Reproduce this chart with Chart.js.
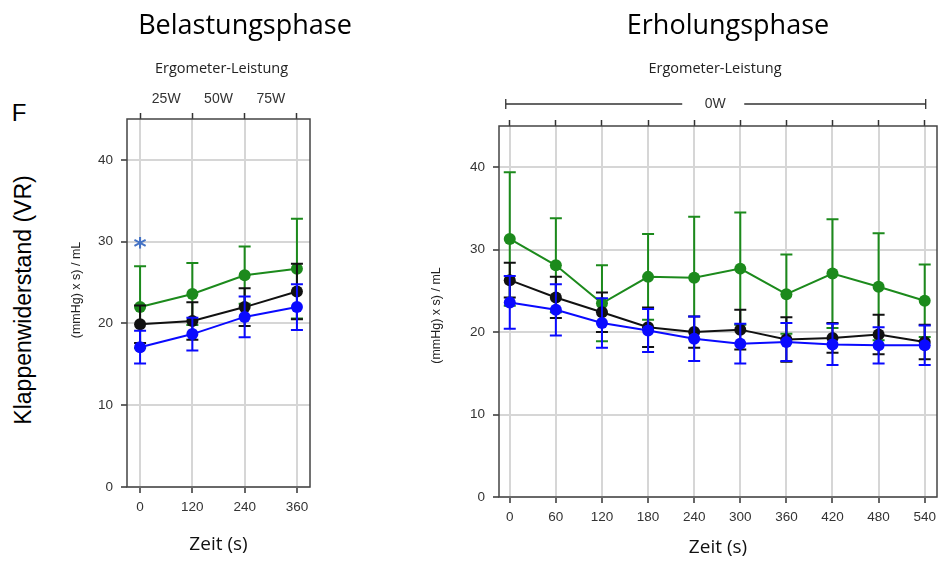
<!DOCTYPE html>
<html>
<head>
<meta charset="utf-8">
<script src="https://cdn.jsdelivr.net/npm/chart.js@4"></script>
<style>
  body { margin: 0; background: #fff; }
  #page { position: relative; width: 943px; height: 563px; overflow: hidden; }
  canvas { position: absolute; }
  .txt { position: absolute; transform: translate(-50%, -50%); white-space: nowrap; line-height: 1; color: #000; }
</style>
</head>
<body>
<div id="page">
  <canvas id="loadChart" width="280" height="523" style="left:40px; top:40px;"></canvas>
  <canvas id="recChart" width="523" height="523" style="left:420px; top:40px;"></canvas>
  <div class="txt" style="left:245px; top:23px; font:27px 'Open Sans';">Belastungsphase</div>
  <div class="txt" style="left:728px; top:23px; font:27px 'Open Sans';">Erholungsphase</div>
  <div class="txt" style="left:19px; top:113px; font:24px 'Liberation Sans';">F</div>
  <div class="txt" style="left:23px; top:300px; font:23px 'Liberation Sans'; transform: translate(-50%, -50%) rotate(-90deg);">Klappenwiderstand (VR)</div>
</div>
<script>
// Belastungsphase (load), time in s
const timeLoad = [0, 120, 240, 360];
const loadGreen = [22.0, 23.6, 25.9, 26.7];
const loadGreenErr = [5.0, 3.8, 3.5, 6.1];
const loadBlack = [19.9, 20.3, 22.0, 23.9];
const loadBlackErr = [2.3, 2.3, 2.3, 3.4];
const loadBlue = [17.1, 18.7, 20.8, 22.0];
const loadBlueErr = [2.0, 2.0, 2.5, 2.8];
const loadPowerLabels = ['25W', '50W', '75W'];
const loadPowerAt = [60, 180, 300];
const loadSignif = [{x: 0, y: 30}];

// Erholungsphase (recovery)
const timeRec = [0, 60, 120, 180, 240, 300, 360, 420, 480, 540];
const recGreen = [31.3, 28.1, 23.5, 26.7, 26.6, 27.7, 24.6, 27.1, 25.5, 23.8];
const recGreenErr = [8.1, 5.7, 4.6, 5.2, 7.4, 6.8, 4.8, 6.6, 6.5, 4.4];
const recBlack = [26.3, 24.2, 22.4, 20.6, 20.0, 20.3, 19.1, 19.3, 19.7, 18.8];
const recBlackErr = [2.1, 2.5, 2.4, 2.4, 1.9, 2.4, 2.7, 1.8, 2.4, 2.1];
const recBlue = [23.6, 22.7, 21.1, 20.2, 19.2, 18.6, 18.8, 18.5, 18.4, 18.4];
const recBlueErr = [3.2, 3.1, 3.0, 2.6, 2.7, 2.4, 2.3, 2.5, 2.2, 2.4];
const recBracket = {from: 0, to: 540, label: '0W'};

const yTicks = [0, 10, 20, 30, 40];
const headerText = 'Ergometer-Leistung';
const yTitle = '(mmHg) x s) / mL';
const xTitle = 'Zeit (s)';

const GREEN = '#1c8a1c';
const BLACK = '#111111';
const BLUE = '#0a0aff';

// error bars, box, y title and the header texts above the plot
const extras = {
  id: 'extras',
  beforeDatasetsDraw(chart) {
    const {ctx, chartArea: a} = chart;
    ctx.save();
    ctx.strokeStyle = '#444';
    ctx.lineWidth = 1.5;
    ctx.strokeRect(a.left, a.top, a.right - a.left, a.bottom - a.top);
    ctx.restore();
  },
  beforeDatasetDraw(chart, args) {
    const ds = chart.data.datasets[args.index];
    if (!ds.errors) return;
    const {ctx} = chart;
    const xs = chart.scales.x, ys = chart.scales.y;
    ctx.save();
    ctx.strokeStyle = ds.borderColor;
    ctx.lineWidth = 2;
    ds.data.forEach((p, i) => {
      const px = xs.getPixelForValue(p.x);
      const hi = ys.getPixelForValue(p.y + ds.errors[i]);
      const lo = ys.getPixelForValue(p.y - ds.errors[i]);
      ctx.beginPath();
      ctx.moveTo(px, hi); ctx.lineTo(px, lo);
      ctx.moveTo(px - 6, hi); ctx.lineTo(px + 6, hi);
      ctx.moveTo(px - 6, lo); ctx.lineTo(px + 6, lo);
      ctx.stroke();
    });
    ctx.restore();
  },
  afterDraw(chart, args, opts) {
    const {ctx, chartArea: a} = chart;
    const xs = chart.scales.x, ys = chart.scales.y;
    ctx.save();
    ctx.textAlign = 'center';
    ctx.textBaseline = 'middle';

    // y axis title
    ctx.save();
    ctx.translate(opts.yTitleX, (a.top + a.bottom) / 2 + opts.yTitleDy);
    ctx.rotate(-Math.PI / 2);
    ctx.fillStyle = '#222';
    ctx.font = '12.5px "Liberation Sans"';
    ctx.fillText(yTitle, 0, 0);
    ctx.restore();

    ctx.fillStyle = '#222';
    ctx.font = '14.5px "Open Sans"';
    ctx.fillText(headerText, (a.left + a.right) / 2 + opts.headerDx, 29);
    ctx.fillStyle = '#333';
    ctx.font = '14px "Liberation Sans"';
    (opts.powerLabels || []).forEach((lab, i) => {
      ctx.fillText(lab, xs.getPixelForValue(opts.powerAt[i]), 59.5);
    });
    if (opts.bracket) {
      const b = opts.bracket;
      const x0 = xs.getPixelForValue(b.from) - 4;
      const x1 = xs.getPixelForValue(b.to) + 1;
      const cx = (x0 + x1) / 2 - 0.5;
      const yb = 64;
      ctx.fillText(b.label, cx, yb);
      ctx.strokeStyle = '#333';
      ctx.lineWidth = 1.3;
      ctx.beginPath();
      ctx.moveTo(x0, yb); ctx.lineTo(cx - 33, yb);
      ctx.moveTo(cx + 29, yb); ctx.lineTo(x1, yb);
      ctx.moveTo(x0, yb - 5); ctx.lineTo(x0, yb + 5);
      ctx.moveTo(x1, yb - 5); ctx.lineTo(x1, yb + 5);
      ctx.stroke();
    }
    (opts.marks || []).forEach(m => {
      ctx.fillStyle = '#4472c4';
      ctx.font = 'bold 25px "DejaVu Sans"';
      ctx.textBaseline = 'alphabetic';
      const t = ctx.measureText('*');
      const off = (t.actualBoundingBoxAscent - t.actualBoundingBoxDescent) / 2;
      ctx.fillText('*', xs.getPixelForValue(m.x), ys.getPixelForValue(m.y) + off + 1);
    });
    ctx.restore();
  }
};

function pts(xs, ys) {
  return xs.map((x, i) => ({x: x, y: ys[i]}));
}

function series(label, color, xs, ys, err) {
  return {
    label: label,
    data: pts(xs, ys),
    errors: err,
    borderColor: color,
    backgroundColor: color,
    pointBackgroundColor: color,
    pointBorderColor: color,
    pointRadius: 6,
    pointBorderWidth: 0,
    borderWidth: 2,
    tension: 0
  };
}

function makeChart(id, cfg) {
  const tickFont = {family: 'Liberation Sans', size: 13.5};
  const fixTicks = vals => axis => { axis.ticks = vals.map(v => ({value: v})); };
  new Chart(document.getElementById(id), {
    type: 'line',
    data: {
      datasets: [
        series('blau', BLUE, cfg.time, cfg.blue, cfg.blueErr),
        series('schwarz', BLACK, cfg.time, cfg.black, cfg.blackErr),
        series('grün', GREEN, cfg.time, cfg.green, cfg.greenErr)
      ]
    },
    options: {
      responsive: false,
      animation: false,
      layout: {padding: {top: cfg.padTop, right: cfg.padRight, left: 0, bottom: 0}},
      plugins: {
        legend: {display: false},
        tooltip: {enabled: false},
        extras: {
          powerLabels: cfg.powerLabels,
          powerAt: cfg.powerAt,
          bracket: cfg.bracket,
          marks: cfg.marks,
          yTitleX: cfg.yTitleX,
          yTitleDy: cfg.yTitleDy,
          headerDx: cfg.headerDx
        }
      },
      scales: {
        x: {
          type: 'linear',
          position: 'bottom',
          bounds: 'data',
          min: cfg.xMin,
          max: cfg.xMax,
          afterBuildTicks: fixTicks(cfg.time),
          afterFit: s => { s.height = cfg.xHeight; },
          border: {display: false},
          grid: {color: '#d6d6d6', lineWidth: 2, tickColor: '#333', tickWidth: 1.5, tickLength: 6},
          ticks: {font: tickFont, color: '#333', padding: 6, maxRotation: 0, autoSkip: false},
          title: {display: true, text: xTitle, font: {family: 'Open Sans', size: 19}, color: '#111',
                  padding: {top: 0, bottom: cfg.xTitlePad}}
        },
        xt: {
          type: 'linear',
          position: 'top',
          bounds: 'data',
          min: cfg.xMin,
          max: cfg.xMax,
          afterBuildTicks: fixTicks(cfg.time),
          afterFit: s => { s.height = 9; },
          border: {display: false},
          grid: {drawOnChartArea: false, tickColor: '#333', tickWidth: 1.5, tickLength: 6},
          ticks: {display: false}
        },
        y: {
          type: 'linear',
          position: 'left',
          bounds: 'data',
          min: 0,
          max: 45,
          afterBuildTicks: fixTicks(yTicks),
          afterFit: s => { s.width = cfg.yWidth; },
          border: {display: false},
          grid: {color: '#d6d6d6', lineWidth: 2, tickColor: '#333', tickWidth: 1.5, tickLength: 6},
          ticks: {font: tickFont, color: '#333', padding: 8}
        }
      }
    },
    plugins: [extras]
  });
}

makeChart('loadChart', {
  time: timeLoad, green: loadGreen, greenErr: loadGreenErr,
  black: loadBlack, blackErr: loadBlackErr, blue: loadBlue, blueErr: loadBlueErr,
  powerLabels: loadPowerLabels, powerAt: loadPowerAt, bracket: null, marks: loadSignif,
  xMin: -30, xMax: 390, padTop: 70, padRight: 10, xHeight: 76, yWidth: 87,
  xTitlePad: 7, yTitleX: 37, yTitleDy: -13, headerDx: 3
});

makeChart('recChart', {
  time: timeRec, green: recGreen, greenErr: recGreenErr,
  black: recBlack, blackErr: recBlackErr, blue: recBlue, blueErr: recBlueErr,
  powerLabels: [], powerAt: [], bracket: recBracket, marks: [],
  xMin: -14, xMax: 556, padTop: 77, padRight: 3, xHeight: 66, yWidth: 79,
  xTitlePad: 4, yTitleX: 17, yTitleDy: 4, headerDx: -3
});
</script>
</body>
</html>
